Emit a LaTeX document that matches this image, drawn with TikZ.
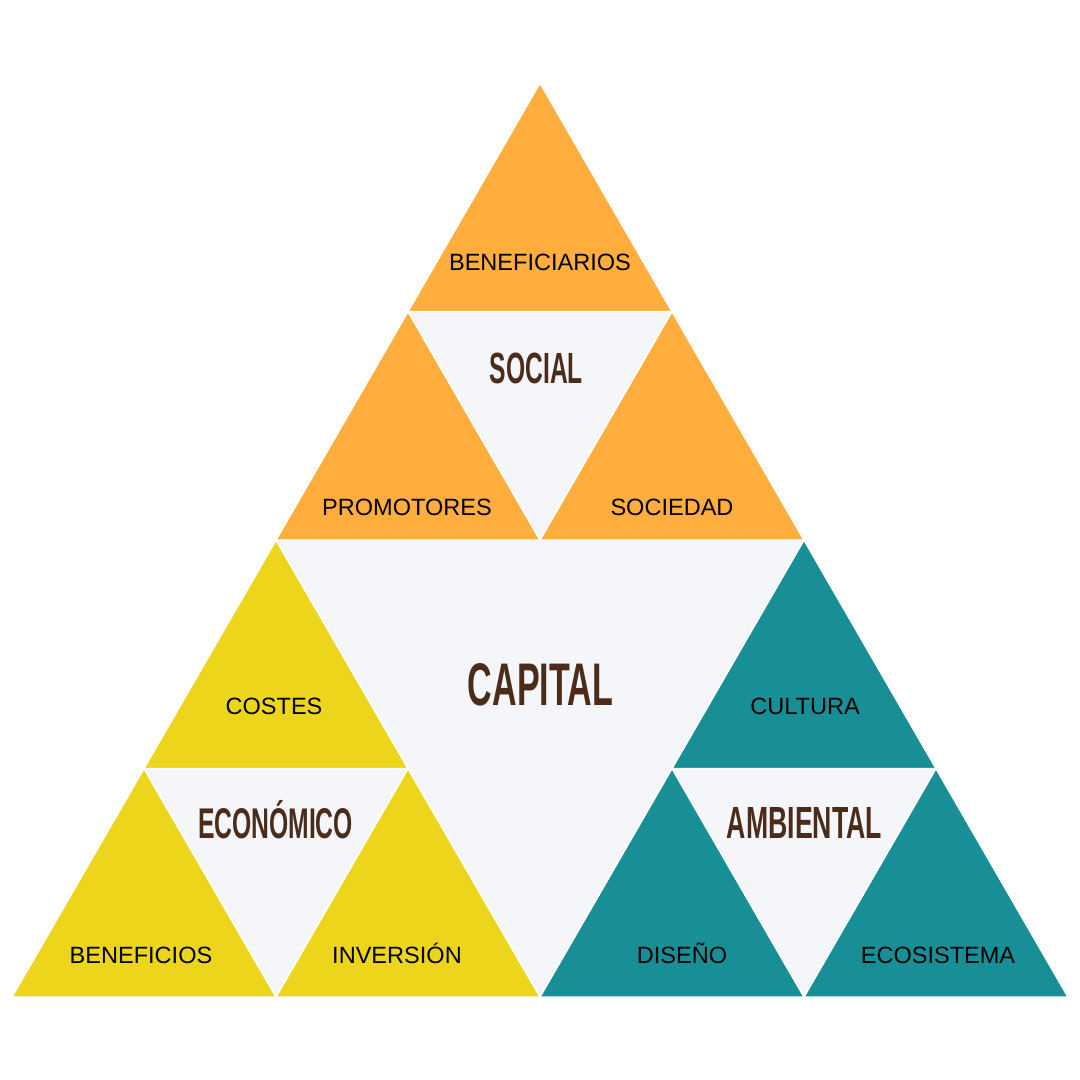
\documentclass[tikz,border=0pt]{standalone}
\usepackage{fontspec}
\setmainfont{Liberation Sans}
\definecolor{orng}{HTML}{FFAD3C}
\definecolor{yell}{HTML}{ECD51A}
\definecolor{teal2}{HTML}{188F96}
\definecolor{lite}{HTML}{F5F6FA}
\definecolor{brwn}{HTML}{4B2C1A}
\newcommand{\ttlbox}[3]{\resizebox{#1mm}{#2mm}{\bfseries #3}}
\begin{document}
\begin{tikzpicture}[x=0.1mm,y=-0.1mm,
  tri/.style={draw=white,line width=0.15mm,line join=miter},
  lbl/.style={anchor=base,inner sep=0pt,font=\fontsize{6.7pt}{8pt}\selectfont,text=black},
  ttl/.style={anchor=base,inner sep=0pt,text=brwn}]
\useasboundingbox (0,0) rectangle (1080,1080);
\fill[white] (0,0) rectangle (1080,1080);
% light inverted triangles
\fill[lite] (276,540) -- (804,540) -- (540,997) -- cycle;
\fill[lite] (408,311.5) -- (672,311.5) -- (540,540) -- cycle;
\fill[lite] (144,768.5) -- (408,768.5) -- (276,997) -- cycle;
\fill[lite] (672,768.5) -- (936,768.5) -- (804,997) -- cycle;
% orange
\filldraw[tri,fill=orng] (540,83) -- (408,311.5) -- (672,311.5) -- cycle;
\filldraw[tri,fill=orng] (408,311.5) -- (276,540) -- (540,540) -- cycle;
\filldraw[tri,fill=orng] (672,311.5) -- (540,540) -- (804,540) -- cycle;
% yellow
\filldraw[tri,fill=yell] (276,540) -- (144,768.5) -- (408,768.5) -- cycle;
\filldraw[tri,fill=yell] (144,768.5) -- (12,997) -- (276,997) -- cycle;
\filldraw[tri,fill=yell] (408,768.5) -- (276,997) -- (540,997) -- cycle;
% teal
\filldraw[tri,fill=teal2] (804,540) -- (672,768.5) -- (936,768.5) -- cycle;
\filldraw[tri,fill=teal2] (672,768.5) -- (540,997) -- (804,997) -- cycle;
\filldraw[tri,fill=teal2] (936,768.5) -- (804,997) -- (1068,997) -- cycle;
% labels
\node[lbl] (benef) at (540,270) {BENEFICIARIOS};
\node[lbl] (promo) at (407,515) {PROMOTORES};
\node[lbl] (socie) at (672,515) {SOCIEDAD};
\node[lbl] (costes) at (274,714) {COSTES};
\node[lbl] (cultura) at (805,714) {CULTURA};
\node[lbl] (benefi) at (141,963) {BENEFICIOS};
\node[lbl] (inver) at (397,963) {INVERSIÓN};
\node[lbl] (disen) at (682,963) {DISEÑO};
\node[lbl] (ecosis) at (938,963) {ECOSISTEMA};
% titles
\node[ttl] (social) at (536.5,383) {\ttlbox{9.3}{3.05}{SOCIAL}};
\node[ttl] (capital) at (540.5,705) {\ttlbox{14.5}{4.2}{CAPITAL}};
\node[ttl] (econ) at (275.5,838) {\ttlbox{15.5}{3.0}{ECON\smash{Ó}MICO}};
\node[ttl] (ambi) at (804.5,838) {\ttlbox{15.5}{3.1}{AMBIENTAL}};
\end{tikzpicture}
\end{document}
